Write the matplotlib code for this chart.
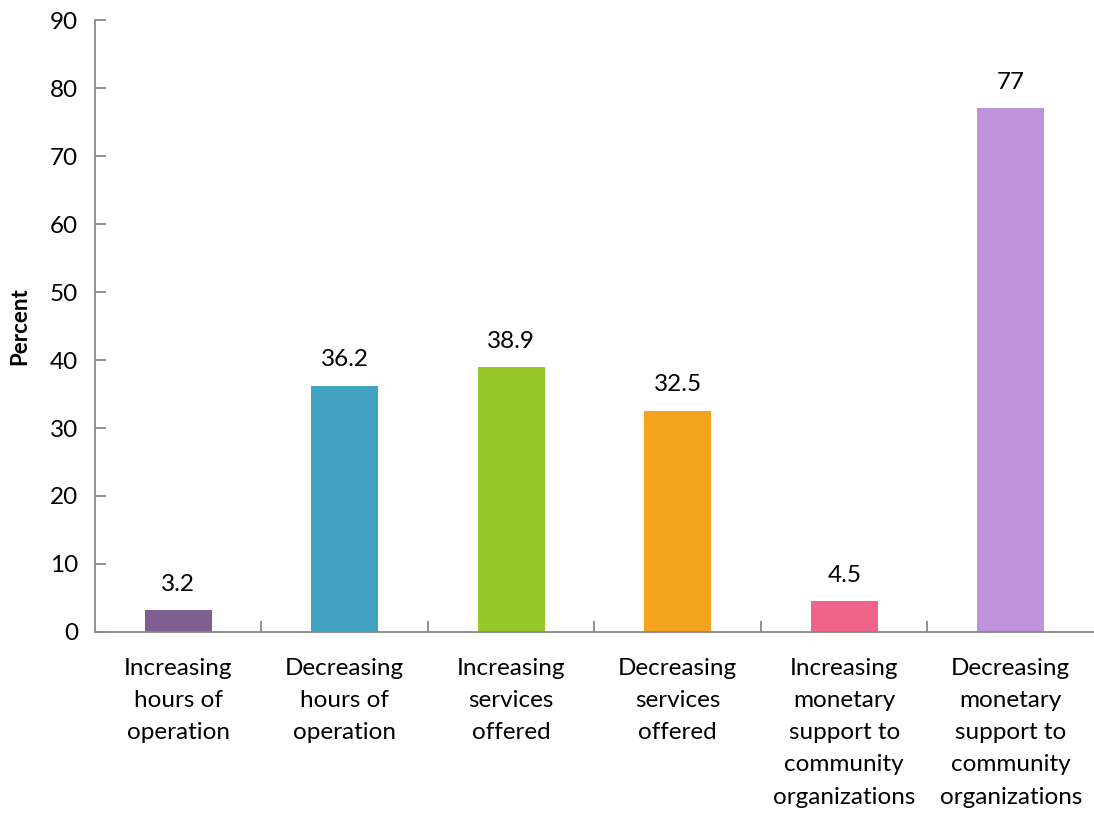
import matplotlib
matplotlib.use("Agg")
import matplotlib.pyplot as plt

categories = [
    "Increasing\nhours of\noperation",
    "Decreasing\nhours of\noperation",
    "Increasing\nservices\noffered",
    "Decreasing\nservices\noffered",
    "Increasing\nmonetary\nsupport to\ncommunity\norganizations",
    "Decreasing\nmonetary\nsupport to\ncommunity\norganizations",
]
values = [3.2, 36.2, 38.9, 32.5, 4.5, 77]
value_labels = ["3.2", "36.2", "38.9", "32.5", "4.5", "77"]
colors = ["#7f5f8f", "#41a2c2", "#97c829", "#f3a41c", "#f0648a", "#bf92dc"]
yticks = [0, 10, 20, 30, 40, 50, 60, 70, 80, 90]

plt.rcParams["font.family"] = ["Lato", "DejaVu Sans"]
FS = 17.5

fig = plt.figure(figsize=(10.94, 8.14), dpi=100)
ax = fig.add_axes([0.0868, 0.2236, 0.9132, 0.7518])

x = list(range(len(values)))
ax.bar(x, values, width=0.4, color=colors, zorder=2)
for xi, v, lab in zip(x, values, value_labels):
    ax.text(xi, v + 2.3, lab, ha="center", va="bottom", fontsize=FS, color="#000000")

ax.set_xlim(-0.5, len(values) - 0.5)
ax.set_ylim(0, 90)
ax.set_yticks(yticks)
ax.set_yticklabels([str(t) for t in yticks], fontsize=FS)

ax.set_xticks([i + 0.5 for i in range(len(values) - 1)], minor=False)
ax.set_xticklabels([])
ax.tick_params(axis="x", direction="in", length=8, color="#888888", width=1.3)
ax.tick_params(axis="y", direction="in", length=8, color="#888888", width=1.3, pad=12)

for i, c in enumerate(categories):
    ax.text(i, -3.8, c, ha="center", va="top", fontsize=FS, linespacing=1.66,
            transform=ax.transData)

for s in ["top", "right"]:
    ax.spines[s].set_visible(False)
for s in ["left", "bottom"]:
    ax.spines[s].set_color("#888888")
    ax.spines[s].set_linewidth(1.3)

ax.set_ylabel("Percent", fontsize=16, fontweight="bold", labelpad=14)

fig.savefig("out.png", dpi=100)
